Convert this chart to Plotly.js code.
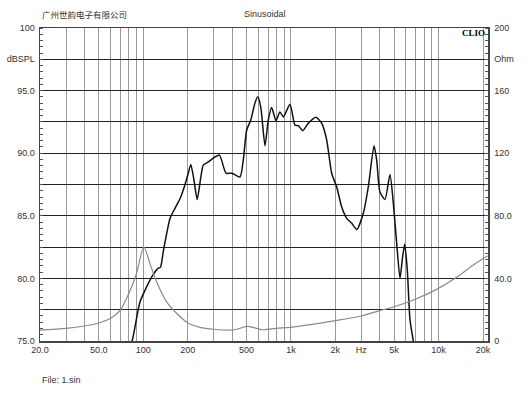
<!DOCTYPE html>
<html>
<head>
<meta charset="utf-8">
<script src="https://cdn.plot.ly/plotly-3.0.1.min.js"></script>
<style>html,body{margin:0;padding:0;background:#fff;}</style>
</head>
<body>
<div id="chart" style="width:530px;height:398px;"></div>
<script>
// SPL response (black)
const splFreq = [78, 84, 95, 114, 126, 131, 137, 152, 164, 178, 192, 202, 210, 221, 232, 245, 255, 276, 298, 328, 364, 400, 452, 476, 502, 535, 571, 596, 625, 668, 703, 741, 793, 843, 889, 986, 1066, 1123, 1202, 1312, 1479, 1617, 1748, 1889, 2043, 2209, 2388, 2582, 2793, 3093, 3343, 3655, 3812, 4010, 4337, 4690, 4940, 5206, 5483, 5680, 5899, 6140, 6405, 6750, 7000];
const splDb   = [74.3, 75.0, 78.1, 80.1, 80.8, 80.9, 82.2, 84.8, 85.6, 86.4, 87.5, 88.4, 89.1, 87.8, 86.3, 88.0, 89.05, 89.3, 89.6, 89.85, 88.4, 88.4, 88.1, 89.45, 91.85, 92.65, 94.0, 94.5, 93.7, 90.6, 92.65, 93.65, 92.6, 93.3, 92.9, 93.9, 92.25, 92.2, 91.8, 92.4, 92.87, 92.4, 91.05, 88.4, 87.3, 85.7, 84.8, 84.4, 83.9, 85.2, 87.3, 90.6, 89.45, 86.9, 86.3, 88.3, 86.0, 82.8, 80.0, 81.5, 82.75, 80.7, 76.7, 74.95, 73.5];

// Impedance (gray)
const zFreq = [20, 30, 40, 50, 60, 70, 80, 90, 101, 111, 123, 144, 160, 202, 242, 300, 400, 452, 506, 586, 650, 800, 1000, 2000, 3000, 4000, 5000, 6750, 9710, 13270, 17200, 21500];
const zOhm  = [7.0, 8.1, 9.6, 11.5, 14.5, 19.8, 30.5, 43.0, 60.0, 49.6, 38.0, 25.0, 19.8, 11.3, 8.75, 7.5, 7.0, 8.1, 9.4, 8.1, 7.2, 8.1, 8.75, 13.0, 16.0, 19.4, 21.9, 26.2, 33.0, 40.7, 48.6, 54.5];

// Axis ticks
const xGrid = [20,30,40,50,60,70,80,90,100,200,300,400,500,600,700,800,900,1000,2000,3000,4000,5000,6000,7000,8000,9000,10000,20000];
const xLabelMap = {20:'20.0',50:'50.0',100:'100',200:'200',500:'500',1000:'1k',2000:'2k',3000:'Hz',5000:'5k',10000:'10k',20000:'20k'};
const yVals = [75,77.5,80,82.5,85,87.5,90,92.5,95,97.5,100];
const yText = ['75.0','','80.0','','85.0','','90.0','','95.0','dBSPL','100'];
const y2Vals = [0,20,40,60,80,100,120,140,160,180,200];
const y2Text = ['0','','40.0','','80.0','','120','','160','Ohm','200'];

const xText = xGrid.map(v => xLabelMap[v] || '');
const font = 'Liberation Sans, Arial, sans-serif';

const traces = [
  {x: zFreq, y: zOhm, yaxis: 'y2', type: 'scatter', mode: 'lines',
   line: {color: '#8a8a8a', width: 1.2, shape: 'spline', smoothing: 0.8}, hoverinfo: 'skip'},
  {x: splFreq, y: splDb, type: 'scatter', mode: 'lines',
   line: {color: '#111', width: 1.5, shape: 'spline', smoothing: 0.6}, hoverinfo: 'skip'}
];

const layout = {
  width: 530, height: 398,
  margin: {l: 40, r: 42, t: 28, b: 57},
  paper_bgcolor: '#fff', plot_bgcolor: '#fff',
  showlegend: false,
  font: {family: font, size: 9, color: '#333'},
  xaxis: {
    type: 'log', range: [Math.log10(20), Math.log10(20) + 448/147.67],
    tickmode: 'array', tickvals: xGrid, ticktext: xText,
    showgrid: true, gridcolor: '#999', gridwidth: 1,
    ticks: '', zeroline: false,
    showline: true, mirror: true, linecolor: '#444', linewidth: 1.5,
    tickfont: {family: font, size: 9, color: '#333'}
  },
  yaxis: {
    range: [75, 100], tickmode: 'array', tickvals: yVals, ticktext: yText,
    showgrid: true, gridcolor: '#222', gridwidth: 1,
    ticks: '', zeroline: false,
    showline: true, mirror: true, linecolor: '#444', linewidth: 1.5,
    minor: {dtick: 0.5, ticks: 'inside', ticklen: 3, tickcolor: '#555', showgrid: false},
    tickfont: {family: font, size: 9, color: '#333'},
    ticklabelstandoff: 2
  },
  yaxis2: {
    overlaying: 'y', side: 'right',
    range: [0, 200], tickmode: 'array', tickvals: y2Vals, ticktext: y2Text,
    showgrid: false, zeroline: false, ticks: '',
    showline: true, linecolor: '#444', linewidth: 1.5,
    minor: {dtick: 4, ticks: 'inside', ticklen: 3, tickcolor: '#555', showgrid: false},
    tickfont: {family: font, size: 9, color: '#333'},
    ticklabelstandoff: 3
  },
  annotations: [
    {text: '广州世韵电子有限公司', xref: 'paper', yref: 'paper', x: 0, y: (341-14)/313,
     xanchor: 'left', yanchor: 'middle', showarrow: false,
     font: {family: 'Noto Sans CJK SC', size: 8.5, color: '#333'}},
    {text: 'Sinusoidal', xref: 'paper', yref: 'paper', x: (265-40)/448, y: (341-14)/313,
     xanchor: 'center', yanchor: 'middle', showarrow: false,
     font: {family: font, size: 9, color: '#333'}},
    {text: '<b>CLIO</b>', xref: 'paper', yref: 'paper', x: 1, y: (341-33)/313,
     xanchor: 'right', yanchor: 'middle', showarrow: false, xshift: -1,
     font: {family: 'Liberation Serif, Times New Roman, serif', size: 9, color: '#000'}},
    {text: 'File: 1.sin', xref: 'paper', yref: 'paper', x: 0, y: (341-380)/313,
     xanchor: 'left', yanchor: 'middle', showarrow: false,
     font: {family: font, size: 9, color: '#333'}}
  ]
};

Plotly.newPlot('chart', traces, layout, {staticPlot: true, displayModeBar: false});
</script>
</body>
</html>
